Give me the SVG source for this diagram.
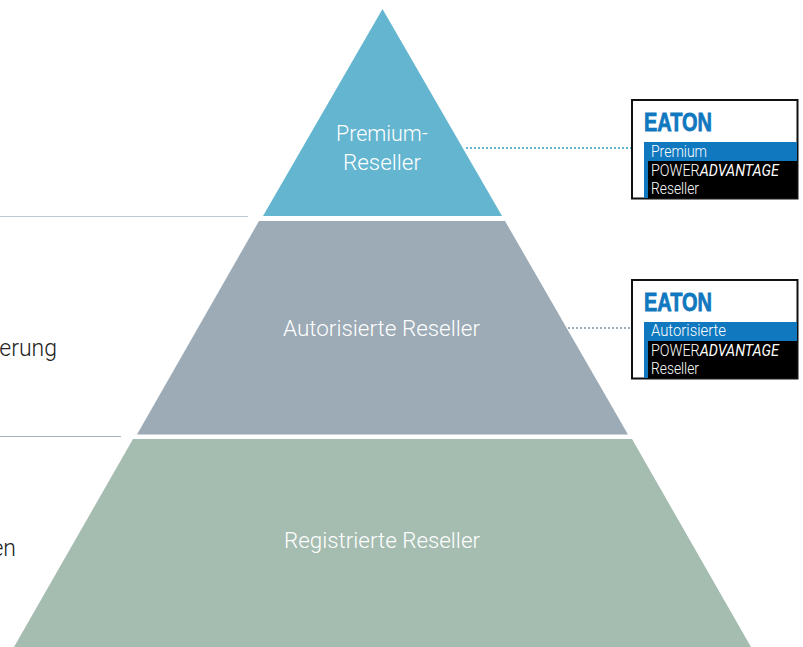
<svg xmlns="http://www.w3.org/2000/svg" width="803" height="647" viewBox="0 0 803 647">
<style>
.lbl{font-family:"Roboto","Liberation Sans",sans-serif;font-weight:300;font-size:22px;fill:#fff}
.side{font-family:"Roboto","Liberation Sans",sans-serif;font-weight:300;font-size:23px;fill:#222}
.rule{stroke-width:1;fill:none}
.dots{stroke-width:2;stroke-dasharray:2 2;fill:none}
.frame{fill:#fff;stroke:#111;stroke-width:2}
.blue{fill:#0f78bf}
.blk{fill:#000}
.logo{font-family:"Liberation Sans",sans-serif;font-weight:700;font-size:25px;fill:#0f78bf;stroke:#0f78bf;stroke-width:.8}
.t{font-family:"Roboto","Liberation Sans",sans-serif;font-weight:300;font-size:16px;fill:#fff}
.ti{font-style:italic;font-weight:400}
</style>
<rect width="803" height="647" fill="#fff"/>
<g id="side-texts">
<text class="side" x="57" y="355.500" text-anchor="end">erung</text>
<text class="side" x="16" y="556" text-anchor="end">en</text>
</g>
<g id="connectors">
<line class="rule" x1="0" y1="216.500" x2="248" y2="216.500" stroke="#b9c8d2"/>
<line class="rule" x1="0" y1="436.500" x2="121" y2="436.500" stroke="#9fb3bf"/>
<line class="dots" x1="466" y1="148" x2="632" y2="148" stroke="#63b5d0"/>
<line class="dots" x1="568" y1="328" x2="632" y2="328" stroke="#9cabb6"/>
</g>
<g id="premium">
<polygon points="382.500,9 502,216 263,216" fill="#63b5d0"/>
<text class="lbl" x="336" y="141" textLength="92" lengthAdjust="spacingAndGlyphs">Premium-</text>
<text class="lbl" x="343" y="170" textLength="78" lengthAdjust="spacingAndGlyphs">Reseller</text>
</g>
<g id="autorisierte">
<polygon points="259,221 505,221 628,434.500 137,434.500" fill="#9cabb6"/>
<text class="lbl" x="283" y="335.500" textLength="197" lengthAdjust="spacingAndGlyphs">Autorisierte Reseller</text>
</g>
<g id="registrierte">
<polygon points="133,439 632,439 751,647 14,647" fill="#a5bcb0"/>
<text class="lbl" x="284" y="547.500" textLength="196" lengthAdjust="spacingAndGlyphs">Registrierte Reseller</text>
</g>
<g id="badge-premium">
<rect class="frame" x="632" y="100" width="165.500" height="98.500"/>
<text class="logo" x="644" y="131" textLength="68" lengthAdjust="spacingAndGlyphs">EATON</text>
<rect class="blue" x="644" y="142" width="153" height="56"/>
<rect class="blk" x="648" y="161" width="149" height="37"/>
<text class="t" x="651" y="157" textLength="56" lengthAdjust="spacingAndGlyphs">Premium</text>
<text class="t" x="651" y="176" textLength="128" lengthAdjust="spacingAndGlyphs">POWER<tspan class="ti">ADVANTAGE</tspan></text>
<text class="t" x="651" y="194" textLength="48" lengthAdjust="spacingAndGlyphs">Reseller</text>
</g>
<g id="badge-autorisierte">
<rect class="frame" x="632" y="280" width="165.500" height="98.500"/>
<text class="logo" x="644" y="311" textLength="68" lengthAdjust="spacingAndGlyphs">EATON</text>
<rect class="blue" x="644" y="322" width="153" height="56"/>
<rect class="blk" x="648" y="341" width="149" height="37"/>
<text class="t" x="651" y="336" textLength="75" lengthAdjust="spacingAndGlyphs">Autorisierte</text>
<text class="t" x="651" y="356" textLength="128" lengthAdjust="spacingAndGlyphs">POWER<tspan class="ti">ADVANTAGE</tspan></text>
<text class="t" x="651" y="374" textLength="48" lengthAdjust="spacingAndGlyphs">Reseller</text>
</g>
</svg>
